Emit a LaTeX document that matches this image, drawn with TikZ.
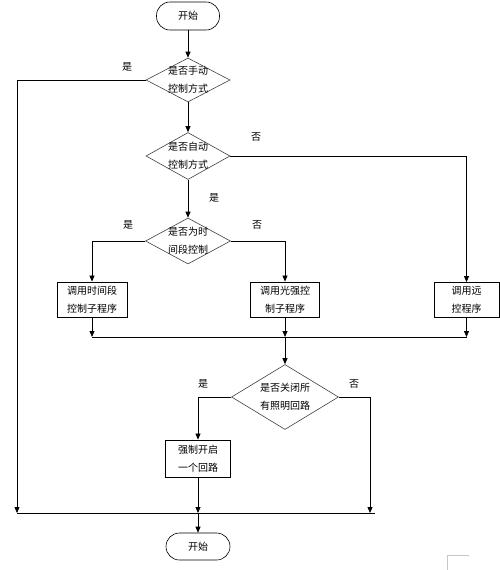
\documentclass[tikz,border=0pt]{standalone}
\usepackage{fontspec}
\setmainfont{Noto Sans CJK SC}
\usetikzlibrary{shapes.geometric,arrows.meta}
\begin{document}
\begin{tikzpicture}[x=1pt,y=-1pt,
  every node/.style={font=\fontsize{10}{18}\selectfont},
  line/.style={draw=black,line width=.75pt},
  arr/.style={line,-{Triangle[length=6pt,width=5pt]}},
  terminal/.style={draw,line width=.6pt,rounded corners=13.5pt,minimum width=63pt,minimum height=28pt,inner sep=0pt},
  proc/.style={draw,line width=.8pt,align=center,minimum height=35pt,inner sep=0pt},
  decision/.style={draw=black!75,line width=.6pt,diamond,inner sep=0pt}]
\useasboundingbox (0,0) rectangle (500,570);
\node[terminal] (start) at (188,16) {开始};
\node[decision,minimum width=84pt,minimum height=44pt,label={[align=center]center:{是否手动\\控制方式}}] (manual) at (188,80) {};
\node[decision,minimum width=84pt,minimum height=47pt,label={[align=center]center:{是否自动\\控制方式}}] (auto) at (188,156) {};
\node[decision,minimum width=85pt,minimum height=46pt,label={[align=center]center:{是否为时\\间段控制}}] (timed) at (188,241) {};
\node[proc,minimum width=70pt] (subtime) at (92,299.5) {调用时间段\\控制子程序};
\node[proc,minimum width=69pt] (sublight) at (285,299.5) {调用光强控\\制子程序};
\node[proc,minimum width=65pt] (subremote) at (466.5,300) {调用远\\控程序};
\node[decision,minimum width=107pt,minimum height=65pt,label={[align=center]center:{是否关闭所\\有照明回路}}] (closeall) at (285,397) {};
\node[proc,minimum width=65pt,minimum height=37pt] (forceon) at (198,458.5) {强制开启\\一个回路};
\node[terminal,minimum width=64pt,minimum height=27pt] (stop) at (198,546.5) {开始};
\coordinate (ml) at (92,337);
\coordinate (mr) at (466.5,337);
\coordinate (bl) at (17,513);
\coordinate (br) at (375,513);
\coordinate (rj) at (370,513);
\node (yes1) at (127,67) {是};
\node (no2) at (256,137) {否};
\node (yes2) at (214,198) {是};
\node (yes3) at (128,225) {是};
\node (no3) at (257,225) {否};
\node (yes4) at (203,384) {是};
\node (no4) at (354,384) {否};
\draw[arr] (start) -- (manual);
\draw[arr] (manual.west) -| (bl);
\draw[arr] (manual) -- (auto);
\draw[arr] (auto.east) -| (subremote.north);
\draw[arr] (auto) -- (timed);
\draw[arr] (timed.west) -| (subtime.north);
\draw[arr] (timed.east) -| (sublight.north);
\draw[arr] (subtime) -- (subtime |- ml);
\draw[arr] (sublight) -- (sublight |- ml);
\draw[arr] (subremote) -- (subremote |- ml);
\draw[line] (ml) -- (mr);
\draw[arr] (closeall |- ml) -- (closeall);
\draw[arr] (closeall.west) -| (forceon.north);
\draw[arr] (closeall.east) -| (rj);
\draw[arr] (forceon) -- (forceon |- bl);
\draw[line] (bl) -- (br);
\draw[arr] (forceon |- bl) -- (stop);
\draw[gray!45,line width=.6pt] (447,570) -- (447,555) -- (469,555);
\end{tikzpicture}
\end{document}
